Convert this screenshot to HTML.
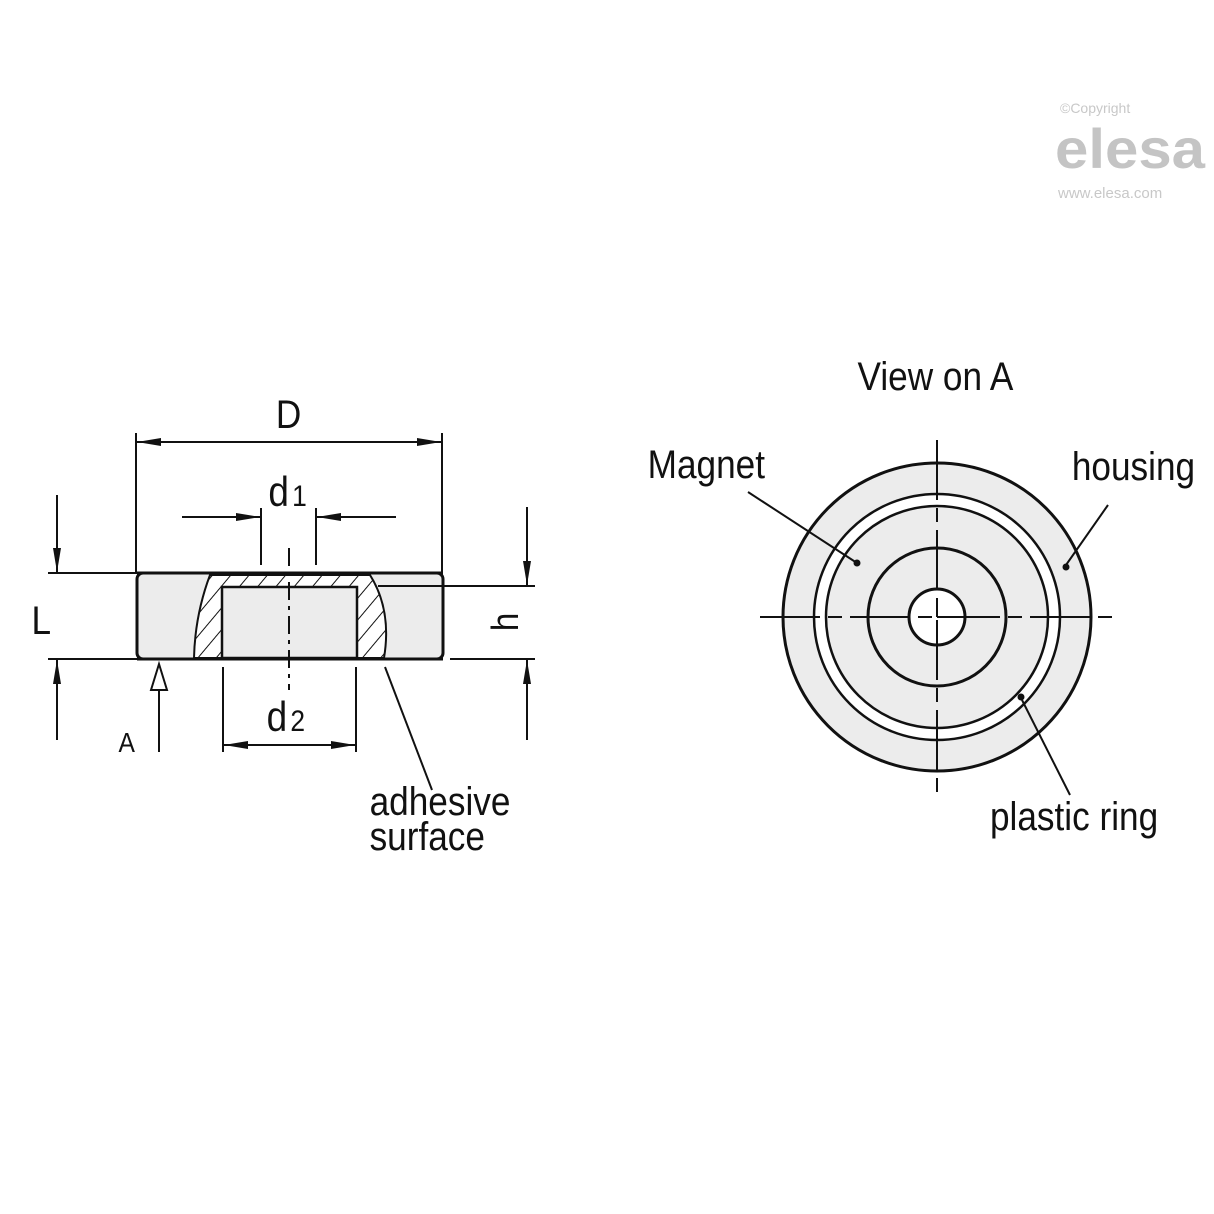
<!DOCTYPE html>
<html><head><style>
body{margin:0;background:#fff}
svg{display:block}
text{font-family:"Liberation Sans",sans-serif;fill:#111}
</style></head><body>
<svg width="1214" height="1214" viewBox="0 0 1214 1214" xmlns="http://www.w3.org/2000/svg">
<defs>
<pattern id="h" width="14" height="14" patternUnits="userSpaceOnUse" patternTransform="rotate(40)">
<rect width="14" height="14" fill="#fff"/><line x1="0" y1="0" x2="0" y2="14" stroke="#111" stroke-width="2"/>
</pattern>
<marker id="a" markerWidth="24" markerHeight="10" refX="24" refY="5" orient="auto-start-reverse" markerUnits="userSpaceOnUse"><path d="M0,1 L24,5 L0,9 Z" fill="#111"/></marker>
</defs>
<!-- watermark -->
<text x="1060" y="113" font-size="14" style="fill:#c8c8c8">©Copyright</text>
<text x="1055" y="168" font-size="56" font-weight="bold" style="fill:#c4c4c4" textLength="150" lengthAdjust="spacingAndGlyphs">elesa</text>
<text x="1058" y="198" font-size="15" style="fill:#c8c8c8">www.elesa.com</text>

<!-- LEFT DRAWING -->
<g stroke="#111" fill="none" stroke-width="2">
<rect x="137" y="573" width="306" height="86" rx="6" fill="#ececec" stroke-width="3"/>
<path d="M210,575 Q195,615 194,658 L222,658 L222,587 L357,587 L357,658 L384,658 Q392,610 370,575 Z" fill="url(#h)" stroke-width="2"/>
<rect x="222" y="587" width="135" height="71" fill="#ececec" stroke-width="2.5"/>
<line x1="137" y1="659" x2="443" y2="659" stroke-width="3"/>
<line x1="137" y1="573" x2="443" y2="573" stroke-width="3"/>
<line x1="289" y1="548" x2="289" y2="690" stroke-dasharray="18,6,4,6"/>
<!-- D -->
<line x1="136" y1="433" x2="136" y2="573"/>
<line x1="442" y1="433" x2="442" y2="573"/>
<line x1="137" y1="442" x2="441" y2="442" marker-start="url(#a)" marker-end="url(#a)"/>
<!-- d1 -->
<line x1="261" y1="508" x2="261" y2="565"/>
<line x1="316" y1="508" x2="316" y2="565"/>
<line x1="182" y1="517" x2="260" y2="517" marker-end="url(#a)"/>
<line x1="396" y1="517" x2="317" y2="517" marker-end="url(#a)"/>
<!-- L -->
<line x1="48" y1="573" x2="137" y2="573"/>
<line x1="48" y1="659" x2="137" y2="659"/>
<line x1="57" y1="495" x2="57" y2="572" marker-end="url(#a)"/>
<line x1="57" y1="740" x2="57" y2="660" marker-end="url(#a)"/>
<!-- h -->
<line x1="378" y1="586" x2="535" y2="586"/>
<line x1="450" y1="659" x2="535" y2="659"/>
<line x1="527" y1="507" x2="527" y2="585" marker-end="url(#a)"/>
<line x1="527" y1="740" x2="527" y2="660" marker-end="url(#a)"/>
<!-- d2 -->
<line x1="223" y1="667" x2="223" y2="752"/>
<line x1="356" y1="667" x2="356" y2="752"/>
<line x1="224" y1="745" x2="355" y2="745" marker-start="url(#a)" marker-end="url(#a)"/>
<!-- A arrow -->
<line x1="159" y1="690" x2="159" y2="752"/>
<path d="M159,664 L151,690 L167,690 Z" fill="#fff"/>
<line x1="385" y1="667" x2="432" y2="790"/>
</g>
<g transform="scale(0.88,1)">
<text x="328" y="428" font-size="40" text-anchor="middle">D</text>
<text x="305" y="506" font-size="42">d</text><text x="332" y="506" font-size="30">1</text>
<text x="303" y="731" font-size="42">d</text><text x="330" y="731" font-size="30">2</text>
<text x="47" y="634" font-size="40" text-anchor="middle">L</text>
<text x="144" y="752" font-size="28" text-anchor="middle">A</text>
<text x="420" y="815" font-size="40">adhesive</text>
<text x="420" y="850" font-size="40">surface</text>
<text x="1063" y="390" font-size="40" text-anchor="middle">View on A</text>
<text x="736" y="478" font-size="40">Magnet</text>
<text x="1218" y="480" font-size="40">housing</text>
<text x="1125" y="830" font-size="40">plastic ring</text>
</g>
<text x="0" y="0" font-size="38" transform="translate(508,622) rotate(-90) scale(0.88,1)" text-anchor="middle" dominant-baseline="middle">h</text>

<!-- RIGHT DRAWING -->
<g stroke="#111" fill="none">
<circle cx="937" cy="617" r="154" fill="#ececec" stroke-width="3"/>
<circle cx="937" cy="617" r="123" fill="#fff" stroke-width="2.5"/>
<circle cx="937" cy="617" r="111" fill="#ececec" stroke-width="2.5"/>
<circle cx="937" cy="617" r="69" stroke-width="3"/>
<circle cx="937" cy="617" r="28" fill="#fff" stroke-width="3"/>
<g stroke-width="2">
<line x1="760" y1="617" x2="1115" y2="617" stroke-dasharray="60,8,14,8"/>
<line x1="937" y1="440" x2="937" y2="797" stroke-dasharray="60,8,14,8"/>
<line x1="937" y1="608" x2="937" y2="617"/><line x1="937" y1="617" x2="945" y2="617"/>
<line x1="748" y1="492" x2="857" y2="563"/>
<line x1="1108" y1="505" x2="1066" y2="565"/>
<line x1="1022" y1="700" x2="1070" y2="795"/>
</g>
<circle cx="857" cy="563" r="3" fill="#111"/>
<circle cx="1066" cy="567" r="3" fill="#111"/>
<circle cx="1021" cy="697" r="3" fill="#111"/>
</g>
</svg>
</body></html>
